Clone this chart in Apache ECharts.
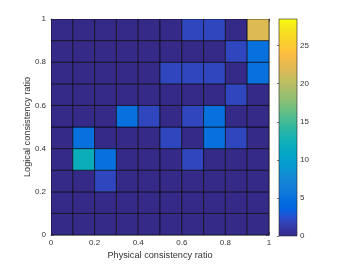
<!DOCTYPE html>
<html><head><meta charset="utf-8">
<script src="https://cdn.jsdelivr.net/npm/echarts@6/dist/echarts.min.js"></script>
<style>html,body{margin:0;padding:0;background:#fff}#c{width:354px;height:265px}</style>
</head><body><div id="c"></div>
<script>
// bin lower edges (physical = x, logical = y)
const xBins = [0, 0.1, 0.2, 0.3, 0.4, 0.5, 0.6, 0.7, 0.8, 0.9];
const yBins = [0, 0.1, 0.2, 0.3, 0.4, 0.5, 0.6, 0.7, 0.8, 0.9];
const binWidth = 0.1;
// counts, one array per logical-ratio row (bottom to top)
const row0 = [0, 0, 0, 0, 0, 0, 0, 0, 0, 0];
const row1 = [0, 0, 0, 0, 0, 0, 0, 0, 0, 0];
const row2 = [0, 0, 2, 0, 0, 0, 0, 0, 0, 0];
const row3 = [0, 12, 5, 0, 0, 0, 2, 0, 0, 0];
const row4 = [0, 5, 0, 0, 0, 2, 0, 5, 2, 0];
const row5 = [0, 0, 0, 5, 2, 0, 2, 5, 0, 0];
const row6 = [0, 0, 0, 0, 0, 0, 0, 0, 2, 0];
const row7 = [0, 0, 0, 0, 0, 2, 2, 2, 0, 5];
const row8 = [0, 0, 0, 0, 0, 0, 0, 0, 2, 5];
const row9 = [0, 0, 0, 0, 0, 0, 2, 2, 0, 22];
const rows = [row0, row1, row2, row3, row4, row5, row6, row7, row8, row9];
const axisTicks = [0, 0.2, 0.4, 0.6, 0.8, 1];
const cbarMin = 0, cbarMax = 28.5, cbarStep = 5;
const xLabel = 'Physical consistency ratio';
const yLabel = 'Logical consistency ratio';

const parula = [
 [0.0,[0.2081,0.1663,0.5292]],[0.0635,[0.1959,0.2645,0.7279]],[0.0794,[0.1707,0.2919,0.7792]],
 [0.0952,[0.1253,0.3242,0.8303]],[0.1111,[0.0591,0.3598,0.8683]],[0.1270,[0.0117,0.3875,0.8820]],
 [0.1587,[0.0165,0.4266,0.8786]],[0.1905,[0.0498,0.4586,0.8641]],[0.2222,[0.0723,0.4887,0.8467]],
 [0.2540,[0.0793,0.5200,0.8312]],[0.2857,[0.0641,0.5570,0.8240]],[0.3175,[0.0343,0.5966,0.8199]],
 [0.3492,[0.0239,0.6287,0.8038]],[0.3810,[0.0228,0.6535,0.7768]],[0.4127,[0.0384,0.6743,0.7436]],
 [0.4444,[0.0843,0.6928,0.7062]],[0.4762,[0.1453,0.7098,0.6646]],[0.5079,[0.2178,0.7250,0.6193]],
 [0.5397,[0.3022,0.7376,0.5712]],[0.5714,[0.3953,0.7459,0.5244]],[0.6032,[0.4871,0.7491,0.4840]],
 [0.6349,[0.5709,0.7485,0.4494]],[0.6667,[0.6473,0.7456,0.4188]],[0.6984,[0.7184,0.7411,0.3905]],
 [0.7302,[0.7858,0.7356,0.3633]],[0.7619,[0.8507,0.7299,0.3360]],[0.7937,[0.9139,0.7258,0.3063]],
 [0.8254,[0.9739,0.7314,0.2666]],[0.8413,[0.9938,0.7455,0.2403]],[0.8571,[0.9990,0.7653,0.2164]],
 [0.8889,[0.9880,0.8066,0.1794]],[0.9206,[0.9697,0.8481,0.1475]],[0.9524,[0.9589,0.8949,0.1132]],
 [0.9841,[0.9661,0.9514,0.0755]],[1.0,[0.9763,0.9831,0.0538]]
];
function rgb(c){return 'rgb('+c.map(v=>Math.round(v*255)).join(',')+')';}
// visualMap needs evenly spaced colours: sample parula at 101 points
function sample(t){
  for(let i=1;i<parula.length;i++){
    if(t<=parula[i][0]){
      const a=parula[i-1],b=parula[i];const f=(t-a[0])/(b[0]-a[0]);
      return rgb(a[1].map((v,k)=>v+(b[1][k]-v)*f));
    }
  }
  return rgb(parula[parula.length-1][1]);
}
const vmColors=[];for(let i=0;i<=100;i++)vmColors.push(sample(i/100));

const cells=[];
rows.forEach((r,yi)=>r.forEach((v,xi)=>cells.push([xBins[xi],yBins[yi],v])));

const font='"Liberation Sans", Arial, Helvetica, sans-serif';
const axC='#262626';
const txtC='#333333';
const chart=echarts.init(document.getElementById('c'),null,{renderer:'canvas'});
const baseAxis={
  min:0,max:1,interval:0.2,
  axisLine:{show:true,onZero:false,lineStyle:{color:axC,width:0.6}},
  axisTick:{show:true,inside:true,length:3,lineStyle:{color:axC,width:0.6}},
  splitLine:{show:false},
  axisLabel:{color:txtC,fontSize:8,fontFamily:font,formatter:v=>String(+v.toFixed(1))}
};
chart.setOption({
  backgroundColor:'#fff',
  animation:false,
  grid:[{left:51,top:19,width:218,height:217},{left:279,top:19,width:18,height:217}],
  xAxis:[
    Object.assign({},baseAxis,{type:'value',gridIndex:0,position:'bottom',
      name:xLabel,nameLocation:'middle',nameGap:16,nameMoveOverlap:false,
      nameTextStyle:{color:txtC,fontSize:9.2,fontFamily:font},
      axisLabel:Object.assign({},baseAxis.axisLabel,{margin:4})}),
    Object.assign({},baseAxis,{type:'value',gridIndex:0,position:'top',axisLabel:{show:false}}),
    {type:'value',gridIndex:1,min:0,max:1,show:false}
  ],
  yAxis:[
    Object.assign({},baseAxis,{type:'value',gridIndex:0,position:'left',
      name:yLabel,nameLocation:'middle',nameGap:19,nameMoveOverlap:false,
      nameTextStyle:{color:txtC,fontSize:9.2,fontFamily:font},
      axisLabel:Object.assign({},baseAxis.axisLabel,{margin:5})}),
    Object.assign({},baseAxis,{type:'value',gridIndex:0,position:'right',axisLabel:{show:false}}),
    {type:'value',gridIndex:1,min:cbarMin,max:cbarMax,interval:cbarStep,position:'right',
      axisLine:{show:false},splitLine:{show:false},
      axisTick:{show:true,inside:true,length:2,lineStyle:{color:axC,width:0.6}},
      axisLabel:{color:txtC,fontSize:8,fontFamily:font,margin:3,showMaxLabel:false}}
  ],
  visualMap:{show:false,type:'continuous',min:cbarMin,max:cbarMax,dimension:2,seriesIndex:0,
    inRange:{color:vmColors}},
  series:[
    {type:'custom',xAxisIndex:0,yAxisIndex:0,data:cells,clip:true,
      renderItem:(params,api)=>{
        const x=api.value(0),y=api.value(1);
        const p0=api.coord([x,y+binWidth]),p1=api.coord([x+binWidth,y]);
        return {type:'rect',shape:{x:p0[0],y:p0[1],width:p1[0]-p0[0],height:p1[1]-p0[1]},
          style:{fill:api.visual('color'),stroke:'rgba(0,0,0,0.75)',lineWidth:0.8}};
      }},
    {type:'custom',xAxisIndex:2,yAxisIndex:2,data:[[0,cbarMin,1,cbarMax]],silent:true,z:1,
      renderItem:(params,api)=>{
        const p0=api.coord([api.value(0),api.value(3)]),p1=api.coord([api.value(2),api.value(1)]);
        return {type:'rect',shape:{x:p0[0],y:p0[1],width:p1[0]-p0[0],height:p1[1]-p0[1]},
          style:{fill:new echarts.graphic.LinearGradient(0,1,0,0,
            parula.map(s=>({offset:s[0],color:rgb(s[1])}))),stroke:axC,lineWidth:0.6}};
      }}
  ]
});
</script></body></html>
